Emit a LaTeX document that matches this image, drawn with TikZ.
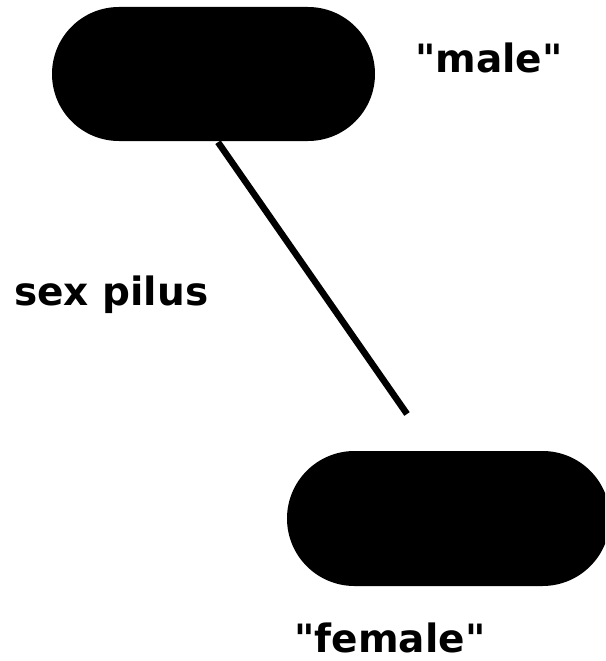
\documentclass[tikz,border=0pt]{standalone}
\usepackage{fontspec}
% no TeX ligature mapping here, so " stays a straight double quote
\newfontfamily\labelfont{DejaVu Sans}
\usetikzlibrary{shapes.misc}
\begin{document}
\begin{tikzpicture}[x=1pt,y=-1pt,
  cell/.style={rounded rectangle, fill=black, draw=none, inner sep=0pt,
               minimum width=323pt, minimum height=134pt},
  pilus/.style={line width=6.5pt, black},
  tag/.style={inner sep=0pt, font=\labelfont\bfseries\fontsize{39}{46}\selectfont}]
  \useasboundingbox[fill=white] (0,0) rectangle (605,661);
  \clip (0,0) rectangle (605,661);
  % donor and recipient cells
  \node[cell] (male) at (213.5,74) {};
  \node[cell, minimum height=135pt] (female) at (448.5,518.5) {};
  % the pilus reaching out from the donor
  \coordinate (pilusbase) at ([xshift=4.5pt,yshift=-1pt]male.south);
  \coordinate (pilustip) at (407,414);
  \draw[pilus] (pilusbase) -- (pilustip);
  % labels
  \node[tag, anchor=base] (malelabel) at (489,73) {"male"};
  \node[tag, anchor=base west] (piluslabel) at (14,305) {sex pilus};
  \node[tag, anchor=base] (femalelabel) at (390,652) {"female"};
\end{tikzpicture}
\end{document}
